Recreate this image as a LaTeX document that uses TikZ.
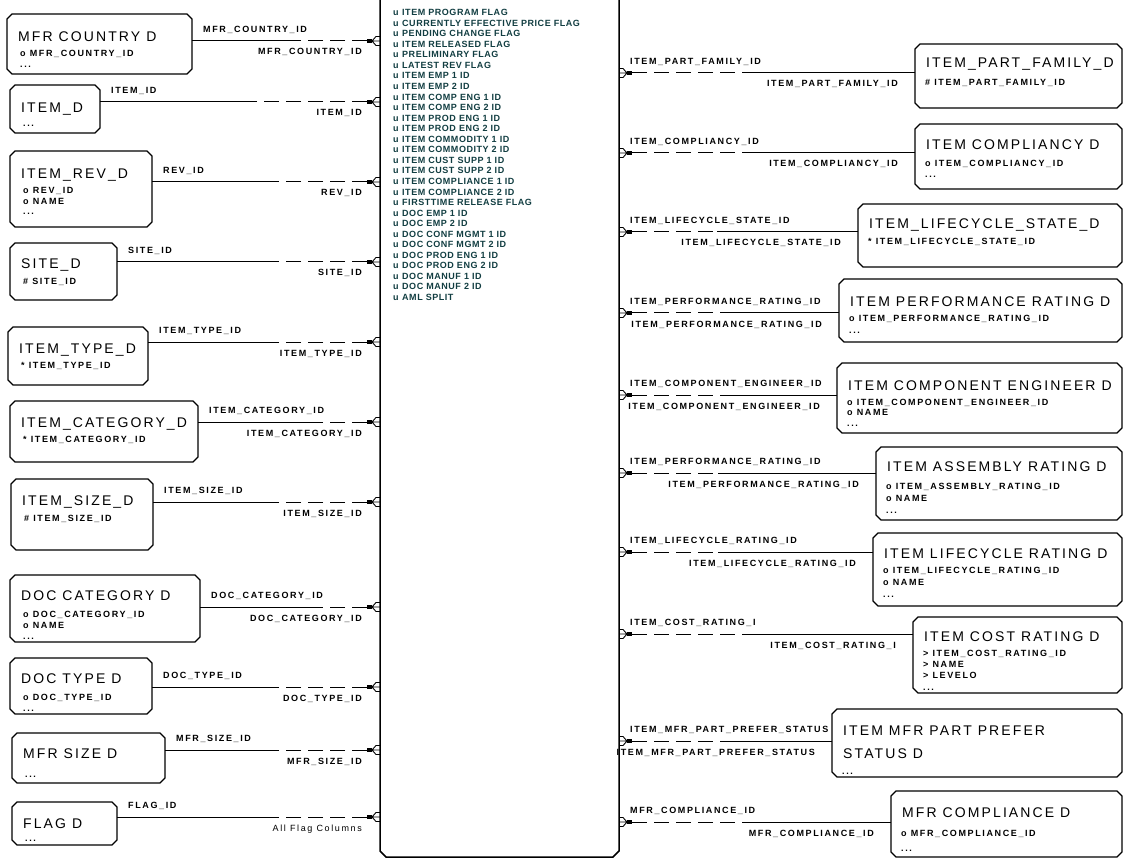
\documentclass[tikz,border=0pt]{standalone}
\usepackage{fontspec}
\setmainfont{Liberation Sans}
\newfontfamily\ttlfont[LetterSpace=15]{Liberation Sans}
\newfontfamily\lblfont[LetterSpace=18]{Liberation Sans}
\newfontfamily\ctrfont[LetterSpace=6]{Liberation Sans}
\definecolor{ctrcol}{RGB}{18,62,66}
\tikzset{
 entbox/.style={rectangle,draw=none,inner sep=0pt,outer sep=0pt},
 boxline/.style={draw=black,line width=1.3pt,line join=miter},
 ctrline/.style={draw=black,line width=1.5pt,line join=miter},
 ttl/.style={font=\ttlfont\fontsize{14}{17}\selectfont,inner sep=0pt,anchor=base west},
 attr/.style={font=\lblfont\bfseries\fontsize{9}{11}\selectfont,inner sep=0pt,anchor=base west},
 lbl/.style={font=\lblfont\bfseries\fontsize{9}{11}\selectfont,inner sep=0pt},
 ctxt/.style={font=\ctrfont\bfseries\fontsize{9}{10}\selectfont,text=ctrcol,inner sep=0pt,anchor=base west},
 conn/.style={draw=black,line width=1pt},
 dashpat/.style={dash pattern=on 15pt off 7pt},
 foot/.style={draw=black,line width=0.9pt},
}
\newcommand\ChamferBox[3]{%
 \draw[#3] ([xshift=#2]#1.north west) -- ([xshift=-#2]#1.north east) -- ([yshift=-#2]#1.north east)
  -- ([yshift=#2]#1.south east) -- ([xshift=-#2]#1.south east) -- ([xshift=#2]#1.south west)
  -- ([yshift=#2]#1.south west) -- ([yshift=-#2]#1.north west) -- cycle;}
\newcommand\EntBox[7]{%
 \node[entbox,minimum width={(#4)-(#2)},minimum height={(#5)-(#3)}] (#1) at ({((#2)+(#4))/2},{((#3)+(#5))/2}) {};
 \ChamferBox{#1}{5pt}{boxline}
 \node[ttl] (#1-t) at ({(#2)+11},{#7}) {#6};}
\newcommand\EntAttr[4]{\node[attr] (#1) at ({#2},{#3}) {#4};}
\newcommand\CRow[2]{\node[ctxt] (c#1) at (393,{15.7+((#1)-1)*10.55}) {u\hspace{3.5pt}#2};}
\newcommand\LConn[5]{%
 \coordinate (#1-s) at (#1.east |- 0,#2);
 \coordinate (#1-e) at (ctr.west |- 0,#2);
 \coordinate (#1-m) at (#3,#2);
 \draw[conn] (#1-s) -- (#1-m);
 \draw[conn,dashpat] ([xshift=-13pt]#1-e) -- (#1-m);
 \fill ([xshift=-13pt,yshift=-2.2pt]#1-e) rectangle ([xshift=-8pt,yshift=2.2pt]#1-e);
 \draw[foot] ([xshift=-8pt]#1-e) -- ([xshift=-4pt,yshift=4.5pt]#1-e) -- ([yshift=4.5pt]#1-e)
  ([xshift=-8pt]#1-e) -- (#1-e)
  ([xshift=-8pt]#1-e) -- ([xshift=-4pt,yshift=-4.5pt]#1-e) -- ([yshift=-4.5pt]#1-e);
 \node[lbl,anchor=base west] (#1-la) at ([xshift=11pt,yshift=8.5pt]#1-s) {#4};
 \node[lbl,anchor=base east] (#1-lb) at ([xshift=-18pt,yshift=-14pt]#1-e) {#5};}
\newcommand\RConn[5]{%
 \coordinate (#1-s) at (#1.west |- 0,#2);
 \coordinate (#1-e) at (ctr.east |- 0,#2);
 \coordinate (#1-m) at (#3,#2);
 \draw[conn] (#1-s) -- (#1-m);
 \draw[conn,dashpat] ([xshift=13pt]#1-e) -- (#1-m);
 \fill ([xshift=8pt,yshift=-2.2pt]#1-e) rectangle ([xshift=13pt,yshift=2.2pt]#1-e);
 \draw[foot] ([xshift=8pt]#1-e) -- ([xshift=4pt,yshift=4.5pt]#1-e) -- ([yshift=4.5pt]#1-e)
  ([xshift=8pt]#1-e) -- (#1-e)
  ([xshift=8pt]#1-e) -- ([xshift=4pt,yshift=-4.5pt]#1-e) -- ([yshift=-4.5pt]#1-e);
 \node[lbl,anchor=base west] (#1-la) at ([xshift=11pt,yshift=8.5pt]#1-e) {#4};
 \node[lbl,anchor=base east] (#1-lb) at ([xshift=-17pt,yshift=-14pt]#1-s) {#5};}
\begin{document}
\begin{tikzpicture}[x=1pt,y=-1pt]
\useasboundingbox (0,0) rectangle (1134,858);
\fill[white] (0,0) rectangle (1134,858);
\clip (0,0) rectangle (1134,858);
% central entity
\node[entbox,minimum width=239,minimum height=877] (ctr) at (499.5,418.5) {};
\ChamferBox{ctr}{6pt}{ctrline}
\CRow{1}{ITEM PROGRAM FLAG}
\CRow{2}{CURRENTLY EFFECTIVE PRICE FLAG}
\CRow{3}{PENDING CHANGE FLAG}
\CRow{4}{ITEM RELEASED FLAG}
\CRow{5}{PRELIMINARY FLAG}
\CRow{6}{LATEST REV FLAG}
\CRow{7}{ITEM EMP 1 ID}
\CRow{8}{ITEM EMP 2 ID}
\CRow{9}{ITEM COMP ENG 1 ID}
\CRow{10}{ITEM COMP ENG 2 ID}
\CRow{11}{ITEM PROD ENG 1 ID}
\CRow{12}{ITEM PROD ENG 2 ID}
\CRow{13}{ITEM COMMODITY 1 ID}
\CRow{14}{ITEM COMMODITY 2 ID}
\CRow{15}{ITEM CUST SUPP 1 ID}
\CRow{16}{ITEM CUST SUPP 2 ID}
\CRow{17}{ITEM COMPLIANCE 1 ID}
\CRow{18}{ITEM COMPLIANCE 2 ID}
\CRow{19}{FIRSTTIME RELEASE FLAG}
\CRow{20}{DOC EMP 1 ID}
\CRow{21}{DOC EMP 2 ID}
\CRow{22}{DOC CONF MGMT 1 ID}
\CRow{23}{DOC CONF MGMT 2 ID}
\CRow{24}{DOC PROD ENG 1 ID}
\CRow{25}{DOC PROD ENG 2 ID}
\CRow{26}{DOC MANUF 1 ID}
\CRow{27}{DOC MANUF 2 ID}
\CRow{28}{AML SPLIT}
% left entities
\EntBox{mfrc}{7}{14}{192}{74}{MFR COUNTRY D}{42}
\EntAttr{mfrc-a1}{20}{57}{o MFR\_COUNTRY\_ID}
\EntAttr{mfrc-a2}{20}{68}{...}
\EntBox{itemd}{10}{85}{100}{133}{ITEM\_D}{113}
\EntAttr{itemd-a1}{23}{127}{...}
\EntBox{itemrev}{10}{151}{152}{227}{ITEM\_REV\_D}{179}
\EntAttr{itemrev-a1}{23}{194}{o REV\_ID}
\EntAttr{itemrev-a2}{23}{204.5}{o NAME}
\EntAttr{itemrev-a3}{23}{215}{...}
\EntBox{site}{10}{243}{117}{300}{SITE\_D}{269}
\EntAttr{site-a1}{23}{285}{\# SITE\_ID}
\EntBox{itype}{8}{327}{148}{385}{ITEM\_TYPE\_D}{353}
\EntAttr{itype-a1}{21}{368}{* ITEM\_TYPE\_ID}
\EntBox{icat}{10}{401}{198}{462}{ITEM\_CATEGORY\_D}{427}
\EntAttr{icat-a1}{23}{442}{* ITEM\_CATEGORY\_ID}
\EntBox{isize}{11}{479}{153}{550}{ITEM\_SIZE\_D}{505}
\EntAttr{isize-a1}{24}{521}{\# ITEM\_SIZE\_ID}
\EntBox{dcat}{10}{575}{200}{642}{DOC CATEGORY D}{600}
\EntAttr{dcat-a1}{23}{617}{o DOC\_CATEGORY\_ID}
\EntAttr{dcat-a2}{23}{628}{o NAME}
\EntAttr{dcat-a3}{23}{639}{...}
\EntBox{dtype}{10}{658}{152}{714}{DOC TYPE D}{683}
\EntAttr{dtype-a1}{23}{700}{o DOC\_TYPE\_ID}
\EntAttr{dtype-a2}{23}{711}{...}
\EntBox{msize}{12}{733}{165}{783}{MFR SIZE D}{758}
\EntAttr{msize-a1}{25}{777}{...}
\EntBox{flag}{12}{802}{117}{845}{FLAG D}{828}
\EntAttr{flag-a1}{25}{841}{...}
% right entities
\EntBox{ipf}{915}{44}{1122}{108}{ITEM\_PART\_FAMILY\_D}{68}
\EntAttr{ipf-a1}{925}{86}{\# ITEM\_PART\_FAMILY\_ID}
\EntBox{icomp}{915}{124}{1122}{189}{ITEM COMPLIANCY D}{150}
\EntAttr{icomp-a1}{925}{167}{o ITEM\_COMPLIANCY\_ID}
\EntAttr{icomp-a2}{925}{178}{...}
\EntBox{ils}{858}{204}{1122}{267}{ITEM\_LIFECYCLE\_STATE\_D}{229}
\EntAttr{ils-a1}{868}{245}{* ITEM\_LIFECYCLE\_STATE\_ID}
\EntBox{iperf}{839}{279}{1122}{342}{ITEM PERFORMANCE RATING D}{307}
\EntAttr{iperf-a1}{849}{321}{o ITEM\_PERFORMANCE\_RATING\_ID}
\EntAttr{iperf-a2}{849}{333}{...}
\EntBox{icomping}{837}{363}{1122}{433}{ITEM COMPONENT ENGINEER D}{390}
\EntAttr{icomping-a1}{847}{405}{o ITEM\_COMPONENT\_ENGINEER\_ID}
\EntAttr{icomping-a2}{847}{415}{o NAME}
\EntAttr{icomping-a3}{847}{426}{...}
\EntBox{iasm}{876}{447}{1122}{520}{ITEM ASSEMBLY RATING D}{471}
\EntAttr{iasm-a1}{886}{489}{o ITEM\_ASSEMBLY\_RATING\_ID}
\EntAttr{iasm-a2}{886}{501}{o NAME}
\EntAttr{iasm-a3}{886}{513}{...}
\EntBox{ilr}{873}{533}{1122}{606}{ITEM LIFECYCLE RATING D}{558}
\EntAttr{ilr-a1}{883}{573}{o ITEM\_LIFECYCLE\_RATING\_ID}
\EntAttr{ilr-a2}{883}{585}{o NAME}
\EntAttr{ilr-a3}{883}{597}{...}
\EntBox{icost}{913}{617}{1122}{693}{ITEM COST RATING D}{641}
\EntAttr{icost-a1}{923}{656}{> ITEM\_COST\_RATING\_ID}
\EntAttr{icost-a2}{923}{667}{> NAME}
\EntAttr{icost-a3}{923}{678}{> LEVELO}
\EntAttr{icost-a4}{923}{690}{...}
\EntBox{impps}{832}{709}{1122}{777}{ITEM MFR PART PREFER}{735}
\node[ttl] (impps-t2) at (843,758) {STATUS D};
\EntAttr{impps-a1}{842}{774}{...}
\EntBox{mcomp}{891}{791}{1122}{857}{MFR COMPLIANCE D}{817}
\EntAttr{mcomp-a1}{901}{836}{o MFR\_COMPLIANCE\_ID}
\EntAttr{mcomp-a2}{901}{851}{...}
% left connectors
\LConn{mfrc}{41}{300}{MFR\_COUNTRY\_ID}{MFR\_COUNTRY\_ID}
\LConn{itemd}{102}{247}{ITEM\_ID}{ITEM\_ID}
\LConn{itemrev}{182}{273}{REV\_ID}{REV\_ID}
\LConn{site}{262}{273}{SITE\_ID}{SITE\_ID}
\LConn{itype}{342}{273}{ITEM\_TYPE\_ID}{ITEM\_TYPE\_ID}
\LConn{icat}{422}{320}{ITEM\_CATEGORY\_ID}{ITEM\_CATEGORY\_ID}
\LConn{isize}{502}{273}{ITEM\_SIZE\_ID}{ITEM\_SIZE\_ID}
\LConn{dcat}{607}{323}{DOC\_CATEGORY\_ID}{DOC\_CATEGORY\_ID}
\LConn{dtype}{687}{273}{DOC\_TYPE\_ID}{DOC\_TYPE\_ID}
\LConn{msize}{750}{273}{MFR\_SIZE\_ID}{MFR\_SIZE\_ID}
\LConn{flag}{817}{273}{FLAG\_ID}{\mdseries All Flag Columns}
% right connectors
\RConn{ipf}{73}{747}{ITEM\_PART\_FAMILY\_ID}{ITEM\_PART\_FAMILY\_ID}
\RConn{icomp}{153}{747}{ITEM\_COMPLIANCY\_ID}{ITEM\_COMPLIANCY\_ID}
\RConn{ils}{232}{717}{ITEM\_LIFECYCLE\_STATE\_ID}{ITEM\_LIFECYCLE\_STATE\_ID}
\RConn{iperf}{313}{722}{ITEM\_PERFORMANCE\_RATING\_ID}{ITEM\_PERFORMANCE\_RATING\_ID}
\RConn{icomping}{395}{722}{ITEM\_COMPONENT\_ENGINEER\_ID}{ITEM\_COMPONENT\_ENGINEER\_ID}
\RConn{iasm}{473}{718}{ITEM\_PERFORMANCE\_RATING\_ID}{ITEM\_PERFORMANCE\_RATING\_ID}
\RConn{ilr}{552}{718}{ITEM\_LIFECYCLE\_RATING\_ID}{ITEM\_LIFECYCLE\_RATING\_ID}
\RConn{icost}{634}{747}{ITEM\_COST\_RATING\_I}{ITEM\_COST\_RATING\_I}
\RConn{impps}{741}{722}{ITEM\_MFR\_PART\_PREFER\_STATUS}{ITEM\_MFR\_PART\_PREFER\_STATUS}
\RConn{mcomp}{822}{747}{MFR\_COMPLIANCE\_ID}{MFR\_COMPLIANCE\_ID}
\end{tikzpicture}
\end{document}
